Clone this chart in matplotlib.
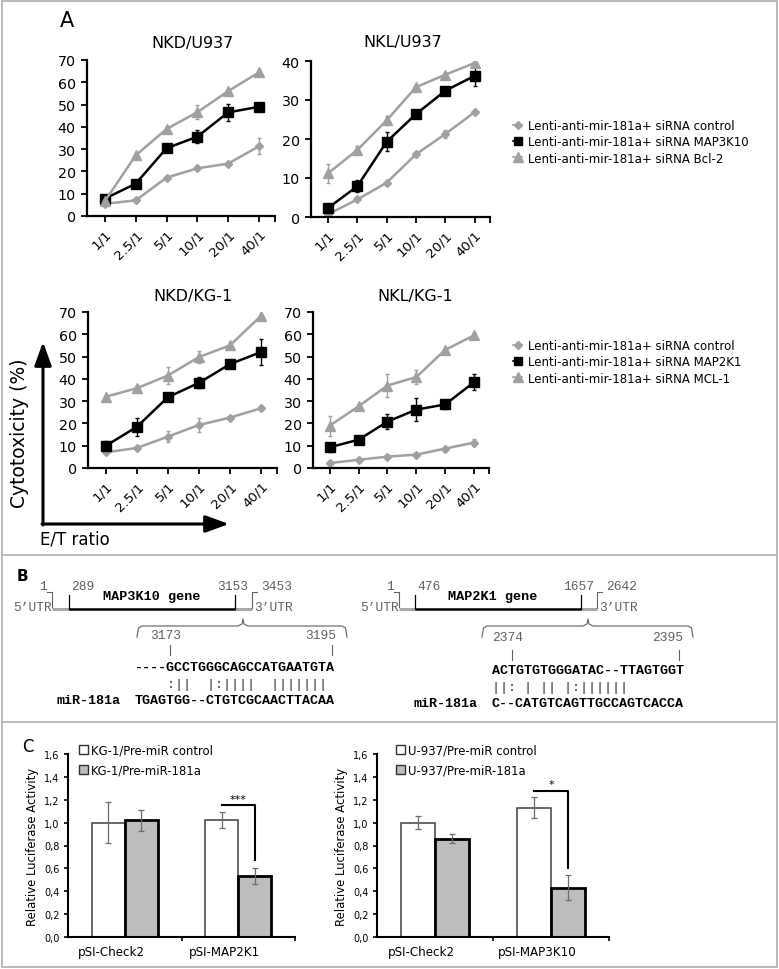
import matplotlib
matplotlib.use('Agg')
import matplotlib.pyplot as plt
from matplotlib.lines import Line2D
from matplotlib.patches import Patch
import numpy as np

W, H = 779, 970

# --- Panel A data: cytotoxicity (%) vs E/T ratio ---
ratios = ['1/1', '2.5/1', '5/1', '10/1', '20/1', '40/1']

nkd_u937_ctrl = [5.5, 7.0, 17.2, 21.4, 23.5, 31.3]
nkd_u937_ctrl_err = [0.5, 0.5, 0.5, 0.8, 0.8, 3.5]
nkd_u937_map3k10 = [7.8, 14.5, 30.4, 35.6, 46.5, 49.0]
nkd_u937_map3k10_err = [1.0, 1.8, 0.8, 3.0, 3.8, 1.0]
nkd_u937_bcl2 = [6.7, 27.2, 39.0, 46.6, 56.0, 64.5]
nkd_u937_bcl2_err = [0.3, 0.6, 0.6, 3.0, 0.6, 0.6]

nkl_u937_ctrl = [0.7, 4.5, 8.8, 16.1, 21.3, 26.9]
nkl_u937_ctrl_err = [0.3, 0.4, 0.5, 0.6, 1.0, 0.5]
nkl_u937_map3k10 = [2.3, 7.9, 19.3, 26.4, 32.4, 36.2]
nkl_u937_map3k10_err = [0.4, 1.5, 2.5, 0.8, 0.8, 2.6]
nkl_u937_bcl2 = [11.2, 17.2, 24.8, 33.3, 36.5, 39.5]
nkl_u937_bcl2_err = [2.5, 1.0, 1.2, 0.5, 0.5, 0.6]

nkd_kg1_ctrl = [7.0, 9.0, 14.1, 19.3, 22.6, 26.8]
nkd_kg1_ctrl_err = [0.4, 0.8, 2.4, 3.0, 0.6, 0.6]
nkd_kg1_map2k1 = [10.0, 18.5, 31.8, 38.2, 46.6, 52.0]
nkd_kg1_map2k1_err = [2.0, 4.0, 0.6, 2.5, 0.6, 6.0]
nkd_kg1_mcl1 = [32.0, 35.8, 41.5, 49.8, 55.0, 68.2]
nkd_kg1_mcl1_err = [0.4, 1.0, 4.0, 2.5, 0.5, 0.5]

nkl_kg1_ctrl = [2.2, 3.7, 5.1, 6.0, 8.7, 11.4]
nkl_kg1_ctrl_err = [0.3, 0.4, 0.5, 0.6, 0.6, 1.5]
nkl_kg1_map2k1 = [9.3, 12.7, 20.8, 26.2, 28.5, 38.5]
nkl_kg1_map2k1_err = [2.0, 0.5, 3.5, 5.0, 2.0, 3.5]
nkl_kg1_mcl1 = [19.0, 27.7, 37.0, 40.8, 53.0, 59.5]
nkl_kg1_mcl1_err = [4.5, 0.5, 5.0, 3.0, 0.5, 0.5]

legend_top = ['Lenti-anti-mir-181a+ siRNA control',
              'Lenti-anti-mir-181a+ siRNA MAP3K10',
              'Lenti-anti-mir-181a+ siRNA Bcl-2']
legend_bottom = ['Lenti-anti-mir-181a+ siRNA control',
                 'Lenti-anti-mir-181a+ siRNA MAP2K1',
                 'Lenti-anti-mir-181a+ siRNA MCL-1']

# --- Panel B: sequences ---
seq_map3k10 = '----GCCTGGGCAGCCATGAATGTA'
pair_map3k10 = '    :||  |:||||  |||||||'
mir_map3k10 = 'TGAGTGG--CTGTCGCAACTTACAA'
seq_map2k1 = 'ACTGTGTGGGATAC--TTAGTGGT'
pair_map2k1 = '||: | || |:||||||'
mir_map2k1 = 'C--CATGTCAGTTGCCAGTCACCA'

# --- Panel C data: relative luciferase activity ---
constructs_kg1 = ['pSI-Check2', 'pSI-MAP2K1']
kg1_ctrl = [1.00, 1.02]
kg1_ctrl_err = [0.18, 0.07]
kg1_181a = [1.02, 0.53]
kg1_181a_err = [0.09, 0.07]

constructs_u937 = ['pSI-Check2', 'pSI-MAP3K10']
u937_ctrl = [1.00, 1.13]
u937_ctrl_err = [0.06, 0.09]
u937_181a = [0.86, 0.43]
u937_181a_err = [0.04, 0.11]

GRAY = '#a0a0a0'
FONT = 'DejaVu Sans'
MONO = 'Liberation Mono'
plt.rcParams['font.family'] = FONT


def box(l, t, r, b):
    return [l / W, 1 - b / H, (r - l) / W, (b - t) / H]


fig = plt.figure(figsize=(W / 100, H / 100), dpi=100)

# overlay in pixel coordinates for frame, arrows and panel B
ov = fig.add_axes([0, 0, 1, 1])
ov.set_xlim(0, W)
ov.set_ylim(H, 0)
ov.axis('off')

frame = dict(color='#b4b4b4', lw=1.3)
ov.plot([2, 777, 777, 2, 2], [2, 2, 968, 968, 2], **frame)
ov.plot([2, 777], [556, 556], **frame)
ov.plot([2, 777], [723, 723], **frame)


def line_panel(rect, title, tx, ty, ymax, step, series):
    ax = fig.add_axes(box(*rect))
    x = np.arange(len(ratios))
    for vals, errs, color, mk, ms in series:
        ax.errorbar(x, vals, yerr=errs, color=color, marker=mk, ms=ms, lw=1.8,
                    elinewidth=1.0, capsize=1.5, capthick=1.0, mec=color, mfc=color)
    ax.set_xlim(-0.58, 5.52)
    ax.set_ylim(0, ymax)
    ax.set_yticks(np.arange(0, ymax + 1, step))
    ax.set_xticks(x)
    ax.set_xticklabels(ratios, rotation=45, ha='right', rotation_mode='anchor', fontsize=9.6)
    ax.set_xticks([5.52], minor=True)
    ax.tick_params(axis='y', labelsize=10.3, length=4, width=1.3, pad=4, colors='black')
    ax.tick_params(axis='x', length=4, width=1.3, pad=4)
    ax.tick_params(axis='x', which='minor', length=4, width=1.3)
    for s in ['top', 'right']:
        ax.spines[s].set_visible(False)
    for s in ['left', 'bottom']:
        ax.spines[s].set_linewidth(1.6)
    ax.text(tx, 1 + ty, title, transform=ax.transAxes, ha='center', va='center', fontsize=11.5)
    ax.patch.set_visible(False)
    return ax


ax1 = line_panel((87, 61, 275, 217), 'NKD/U937', 0.56, 0.115, 70, 10, [
    (nkd_u937_ctrl, nkd_u937_ctrl_err, GRAY, 'D', 4),
    (nkd_u937_map3k10, nkd_u937_map3k10_err, 'black', 's', 6.5),
    (nkd_u937_bcl2, nkd_u937_bcl2_err, GRAY, '^', 7)])
ax2 = line_panel((311, 62, 490, 218), 'NKL/U937', 0.51, 0.125, 40, 10, [
    (nkl_u937_ctrl, nkl_u937_ctrl_err, GRAY, 'D', 4),
    (nkl_u937_map3k10, nkl_u937_map3k10_err, 'black', 's', 6.5),
    (nkl_u937_bcl2, nkl_u937_bcl2_err, GRAY, '^', 7)])
ax3 = line_panel((88, 313, 277, 469), 'NKD/KG-1', 0.556, 0.105, 70, 10, [
    (nkd_kg1_ctrl, nkd_kg1_ctrl_err, GRAY, 'D', 4),
    (nkd_kg1_map2k1, nkd_kg1_map2k1_err, 'black', 's', 6.5),
    (nkd_kg1_mcl1, nkd_kg1_mcl1_err, GRAY, '^', 7)])
ax4 = line_panel((313, 313, 489, 469), 'NKL/KG-1', 0.58, 0.105, 70, 10, [
    (nkl_kg1_ctrl, nkl_kg1_ctrl_err, GRAY, 'D', 4),
    (nkl_kg1_map2k1, nkl_kg1_map2k1_err, 'black', 's', 6.5),
    (nkl_kg1_mcl1, nkl_kg1_mcl1_err, GRAY, '^', 7)])


def handles(labels):
    sty = [(GRAY, 'D', 4), ('black', 's', 6), (GRAY, '^', 6.5)]
    return [Line2D([0], [0], color=c, marker=m, ms=s, lw=1.2, label=l)
            for (c, m, s), l in zip(sty, labels)]


for ax, labels, top in [(ax2, legend_top, 120), (ax4, legend_bottom, 340)]:
    ax.legend(handles=handles(labels), loc='upper left',
              bbox_to_anchor=(513 / W, 1 - top / H), bbox_transform=fig.transFigure,
              frameon=False, fontsize=8.5, handlelength=0.8, handletextpad=0.45,
              labelspacing=0.28, borderpad=0, borderaxespad=0)

ov.text(67, 21, 'A', fontsize=15, ha='center', va='center')
ov.text(20, 433, 'Cytotoxicity (%)', rotation=90, fontsize=13.5, ha='center', va='center')
ov.text(40, 540, 'E/T ratio', fontsize=12, ha='left', va='center')
arrow = dict(arrowstyle='-|>,head_length=1.1,head_width=0.4', color='black', lw=2.2,
             shrinkA=0, shrinkB=0, mutation_scale=13)
ov.annotate('', xy=(43, 343), xytext=(43, 526), arrowprops=arrow)
ov.annotate('', xy=(229, 525), xytext=(42, 525), arrowprops=arrow)

# --- Panel B ---
ov.text(22, 577, 'B', fontsize=11, fontweight='bold', ha='center', va='center')

NUMC = '#606060'


def gene(x_start, x_cds, x_cde, x_end, labels, name, name_x):
    lbl1, lbl2, lbl3, lbl4 = labels
    ov.plot([x_start, x_cds], [610, 610], color='#a8a8a8', lw=2.2, solid_capstyle='butt')
    ov.plot([x_cde, x_end], [610, 610], color='#a8a8a8', lw=2.2, solid_capstyle='butt')
    ov.plot([x_cds, x_cde], [610, 610], color='black', lw=1.8, solid_capstyle='butt')
    ov.plot([x_cds, x_cds], [596, 610], color='black', lw=0.9)
    ov.plot([x_cde, x_cde], [596, 610], color='black', lw=0.9)
    ov.plot([x_start - 5, x_start, x_start], [593, 593, 608], color=NUMC, lw=0.8)
    ov.plot([x_end, x_end, x_end + 5], [609, 593, 593], color=NUMC, lw=0.8)
    kw = dict(fontfamily=MONO, fontsize=9.3, color=NUMC, va='center')
    ov.text(x_start - 5, 587, lbl1, ha='right', **kw)
    ov.text(x_cds + 2, 587, lbl2, ha='left', **kw)
    ov.text(x_cde - 2, 587, lbl3, ha='center', **kw)
    ov.text(x_end + 9, 587, lbl4, ha='left', **kw)
    ov.text(x_start, 608, '5\u2019UTR', ha='right', **kw)
    ov.text(x_end + 2, 608, '3\u2019UTR', ha='left', **kw)
    ov.text(name_x, 597, name, fontfamily=MONO, fontsize=9.7, fontweight='bold',
            ha='center', va='center')


def brace(x0, x1, xa, ytop=627, ybot=638):
    xs = [x0, x0 + 1.5, x0 + 5, xa - 5, xa - 1, xa, xa + 1, xa + 5, x1 - 5, x1 - 1.5, x1]
    ys = [ybot, ytop + 2, ytop, ytop, ytop - 2, ytop - 7, ytop - 2, ytop, ytop, ytop + 2, ybot]
    ov.plot(xs, ys, color='#707070', lw=0.9)


def alignment(x0, yseq, seq, pair, mir, pos_a, pos_b, xa, xb, ypos, yt):
    ov.text(xa, ypos, pos_a, fontfamily=MONO, fontsize=9.3, color=NUMC, ha='center', va='center')
    ov.text(xb, ypos, pos_b, fontfamily=MONO, fontsize=9.3, color=NUMC, ha='center', va='center')
    ov.plot([xa + 4, xa + 4], [yt - 5, yt + 5], color=NUMC, lw=0.8)
    ov.plot([xb + 11, xb + 11], [yt - 5, yt + 5], color=NUMC, lw=0.8)
    kw = dict(fontfamily=MONO, fontsize=9.6, ha='left', va='center')
    ov.text(x0, yseq, seq, fontweight='bold', **kw)
    ov.text(x0, yseq + 17, pair, color='#333333', **kw)
    ov.text(x0, yseq + 33, mir, fontweight='bold', **kw)
    ov.text(x0 - 78, yseq + 33, 'miR-181a', fontfamily=MONO, fontsize=9.6,
            fontweight='bold', ha='left', va='center')


gene(52, 69, 235, 252, ('1', '289', '3153', '3453'), 'MAP3K10 gene', 152)
gene(399, 415, 581, 597, ('1', '476', '1657', '2642'), 'MAP2K1 gene', 493)
brace(137, 347, 243)
brace(482, 693, 588)
alignment(135, 668, seq_map3k10, pair_map3k10, mir_map3k10, '3173', '3195', 166, 321, 636, 651)
alignment(492, 671, seq_map2k1, pair_map2k1, mir_map2k1, '2374', '2395', 508, 668, 638, 656)

# --- Panel C ---
ov.text(28, 747, 'C', fontsize=12, ha='center', va='center')


def bar_panel(rect, cats, ctrl, ctrl_err, mir, mir_err, labels, sig, leg_x):
    ax = fig.add_axes(box(*rect))
    x = np.arange(len(cats))
    w = 0.29
    ax.bar(x - w / 2, ctrl, w, color='white', edgecolor='#404040', lw=1.1, zorder=2)
    ax.bar(x + w / 2, mir, w, color='#bdbdbd', edgecolor='black', lw=2.0, zorder=2)
    ax.errorbar(x - w / 2, ctrl, yerr=ctrl_err, fmt='none', ecolor='#6a6a6a',
                elinewidth=0.9, capsize=2, capthick=0.9, zorder=3)
    ax.errorbar(x + w / 2, mir, yerr=mir_err, fmt='none', ecolor='#6a6a6a',
                elinewidth=0.9, capsize=2, capthick=0.9, zorder=3)
    ytop, ybot, star = sig
    ax.plot([1 - w / 2, 1 + w / 2, 1 + w / 2], [ytop, ytop, ybot], color='black', lw=1.5)
    ax.text(1, ytop + 0.06, star, ha='center', va='center', fontsize=8)
    ax.set_xlim(-0.5, 1.5)
    ax.set_ylim(0, 1.6)
    ax.set_yticks(np.arange(0, 1.61, 0.2))
    ax.set_yticklabels([f'{v:.1f}'.replace('.', ',') for v in np.arange(0, 1.61, 0.2)])
    ax.set_xticks(x - 0.12)
    ax.set_xticklabels(cats, fontsize=8.6)
    ax.set_xticks([0.5, 1.5], minor=True)
    ax.tick_params(axis='x', length=0, pad=6)
    ax.tick_params(axis='x', which='minor', length=3, width=1.2)
    ax.tick_params(axis='y', labelsize=7, length=3, width=1.2, pad=3)
    for s in ['top', 'right']:
        ax.spines[s].set_visible(False)
    for s in ['left', 'bottom']:
        ax.spines[s].set_linewidth(1.5)
    ax.set_ylabel('Relative Luciferase Activity', fontsize=8.4, labelpad=4)
    hs = [Patch(facecolor='white', edgecolor='#303030', lw=1.0, label=labels[0]),
          Patch(facecolor='#bdbdbd', edgecolor='#303030', lw=1.0, label=labels[1])]
    ax.legend(handles=hs, loc='upper left', bbox_to_anchor=(leg_x / W, 1 - 745 / H),
              bbox_transform=fig.transFigure, frameon=False, fontsize=8.4,
              handlelength=0.8, handleheight=0.8, handletextpad=0.25,
              labelspacing=0.55, borderpad=0, borderaxespad=0)
    ax.patch.set_visible(False)
    return ax


bar_panel((68, 755, 295, 938), constructs_kg1, kg1_ctrl, kg1_ctrl_err, kg1_181a, kg1_181a_err,
          ['KG-1/Pre-miR control', 'KG-1/Pre-miR-181a'], (1.15, 0.67, '***'), 79)
bar_panel((377, 755, 609, 938), constructs_u937, u937_ctrl, u937_ctrl_err, u937_181a, u937_181a_err,
          ['U-937/Pre-miR control', 'U-937/Pre-miR-181a'], (1.28, 0.60, '*'), 396)

fig.savefig('out.png', dpi=100)
